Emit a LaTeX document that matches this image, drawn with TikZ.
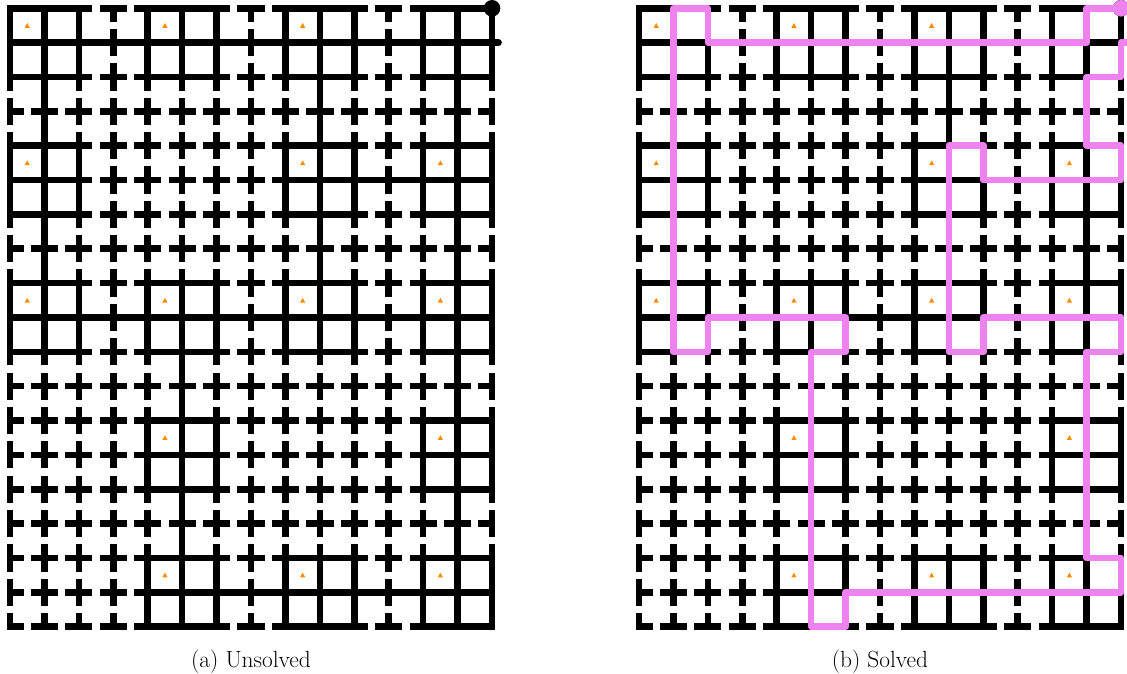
\documentclass[tikz,border=0pt]{standalone}
\usepackage{fontspec}
\definecolor{pathpink}{RGB}{238,130,238}
\definecolor{triorange}{RGB}{255,140,0}
\tikzset{
  gridline/.style={line width=6.6pt, line cap=rect, black},
  nubline/.style={line width=6.6pt, line cap=round, black},
  solpath/.style={line width=6.6pt, line cap=round, line join=round, pathpink},
  tri/.style={fill=triorange},
  captext/.style={anchor=base, inner sep=0pt, font=\fontsize{23.4}{28}\selectfont},
}
\newcommand{\drawpuzzle}{%
  % stubs of every edge (broken look)
  \foreach \j in {0,...,18}{\foreach \i in {0,...,13}{
     \draw[gridline] (\i,\j) -- ++(0.3,0);
     \draw[gridline] (\i+1,\j) -- ++(-0.3,0);}}
  \foreach \j in {0,...,17}{\foreach \i in {0,...,14}{
     \draw[gridline] (\i,\j) -- ++(0,0.3);
     \draw[gridline] (\i,\j+1) -- ++(0,-0.3);}}
  % full horizontal edges
  \foreach \j/\L in {0/{0,1,4,5,8,9,12,13}, 1/{0,...,13}, 2/{0,1,4,5,8,9,12,13},
      4/{0,1,8,9,12,13}, 5/{0,1,8,9,10,11,12,13}, 6/{0,1,8,9,12,13},
      8/{0,1,4,5,8,9,12,13}, 9/{0,...,13}, 10/{0,1,4,5,8,9,12,13},
      12/{4,5,12,13}, 13/{4,5,12,13}, 14/{4,5,12,13},
      16/{4,5,8,9,12,13}, 17/{4,...,13}, 18/{4,5,8,9,12,13}}{
    \foreach \i in \L {\draw[gridline] (\i,\j) -- ++(1,0);}}
  % full vertical edges
  \foreach \j/\L in {0/{0,1,2,4,5,6,8,9,10,12,13,14}, 1/{0,1,2,4,5,6,8,9,10,12,13,14},
      2/{1,9,13}, 3/{1,9,13},
      4/{0,1,2,8,9,10,12,13,14}, 5/{0,1,2,8,9,10,12,13,14},
      6/{1,9,13}, 7/{1,9,13},
      8/{0,1,2,4,5,6,8,9,10,12,13,14}, 9/{0,1,2,4,5,6,8,9,10,12,13,14},
      10/{5,13}, 11/{5,13},
      12/{4,5,6,12,13,14}, 13/{4,5,6,12,13,14},
      14/{5,13}, 15/{5,13},
      16/{4,5,6,8,9,10,12,13,14}, 17/{4,5,6,8,9,10,12,13,14}}{
    \foreach \i in \L {\draw[gridline] (\i,\j) -- ++(0,1);}}
  % exit nub and start circle
  \draw[nubline] (14,1) -- (14.19,1);
  \fill[black] (14,0) circle[radius=8.3pt];
  % triangles
  \foreach \c/\r in {0/0,4/0,8/0, 0/4,8/4,12/4, 0/8,4/8,8/8,12/8, 4/12,12/12, 4/16,8/16,12/16}{
    \fill[tri] (\c+0.5,\r+0.5) ++(-2.6pt,-2.3pt) -- ++(5.2pt,0pt) -- ++(-2.6pt,4.8pt) -- cycle;}
}
\begin{document}
\begin{tikzpicture}[x=1pt,y=-1pt]
\useasboundingbox (0,0) rectangle (1127,674);
% (a) unsolved puzzle
\begin{scope}[shift={(10,8.3)}, x=34.43pt, y=-34.35pt]
  \drawpuzzle
\end{scope}
% (b) solved puzzle
\begin{scope}[shift={(639,8.3)}, x=34.43pt, y=-34.35pt]
  \drawpuzzle
  \draw[solpath] (14,0) -- (13,0) -- (13,1) -- (2,1) -- (2,0) -- (1,0) -- (1,10)
    -- (2,10) -- (2,9) -- (6,9) -- (6,10) -- (5,10) -- (5,18) -- (6,18) -- (6,17)
    -- (14,17) -- (14,16) -- (13,16) -- (13,10) -- (14,10) -- (14,9) -- (10,9)
    -- (10,10) -- (9,10) -- (9,4) -- (10,4) -- (10,5) -- (14,5) -- (14,4) -- (13,4)
    -- (13,2) -- (14,2) -- (14,1) -- (14.19,1);
  \fill[pathpink] (14,0) circle[radius=8.3pt];
\end{scope}
\node[captext] (capa) at (251,667) {(a) Unsolved};
\node[captext] (capb) at (880,667) {(b) Solved};
\end{tikzpicture}
\end{document}
